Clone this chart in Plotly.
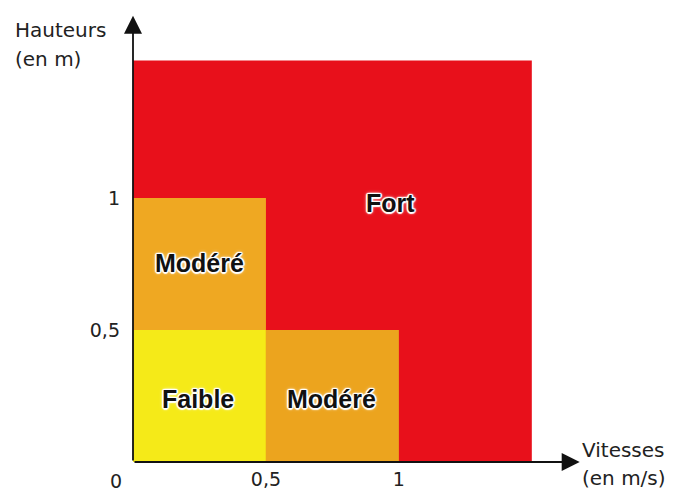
import plotly.graph_objects as go

# ---- data ----
zone_names = ["Fort", "Modéré", "Faible", "Modéré"]
zone_x0 = [0.0, 0.0, 0.0, 0.5]
zone_x1 = [1.5, 0.5, 0.5, 1.0]
zone_y0 = [0.0, 0.5, 0.0, 0.0]
zone_y1 = [1.52, 1.0, 0.5, 0.5]
zone_colors = ["#E8101B", "#EFA822", "#F5EA18", "#ECA41E"]
label_x = [0.97, 0.25, 0.245, 0.745]
label_y = [0.98, 0.755, 0.24, 0.24]

x_tick_vals = [0.5, 1.0]
x_tick_text = ["0,5", "1"]
y_tick_vals = [0.5, 1.0]
y_tick_text = ["0,5", "1"]
x_title = ["Vitesses", "(en m/s)"]
y_title = ["Hauteurs", "(en m)"]

fig = go.Figure()

shapes = []
for x0, x1, y0, y1, c in zip(zone_x0, zone_x1, zone_y0, zone_y1, zone_colors):
    shapes.append(dict(type="rect", xref="x", yref="y", x0=x0, x1=x1, y0=y0, y1=y1,
                       fillcolor=c, line=dict(width=0), layer="below"))

annotations = []
w = "rgb(255,255,255)"
halo = ", ".join([
    f"1.5px 0px 1px {w}", f"-1.5px 0px 1px {w}", f"0px 1.5px 1px {w}", f"0px -1.5px 1px {w}",
    f"1px 1px 1px {w}", f"-1px -1px 1px {w}", f"1px -1px 1px {w}", f"-1px 1px 1px {w}",
    f"0px 0px 4px {w}",
])
for name, lx, ly in zip(zone_names, label_x, label_y):
    annotations.append(dict(x=lx, y=ly, xref="x", yref="y", text=name, showarrow=False,
                            font=dict(family="Liberation Sans", size=25, color="#111111",
                                      weight="bold", shadow=halo)))

# axis arrows
annotations.append(dict(x=1.68, y=0, ax=0, ay=0, xref="x", yref="y", axref="x", ayref="y",
                        text="", showarrow=True, arrowhead=2, arrowwidth=1.8, arrowsize=2.0,
                        arrowcolor="#111", standoff=0, startstandoff=0))
annotations.append(dict(x=0, y=1.69, ax=0, ay=0, xref="x", yref="y", axref="x", ayref="y",
                        text="", showarrow=True, arrowhead=2, arrowwidth=1.8, arrowsize=2.0,
                        arrowcolor="#111", standoff=0, startstandoff=0))

tick_font = dict(family="DejaVu Sans", size=19, color="#222")
title_font = dict(family="DejaVu Sans", size=20, color="#222")

# origin label
annotations.append(dict(x=-0.0376, y=-0.043, xref="paper", yref="paper", text="0",
                        showarrow=False, xanchor="center", yanchor="middle", font=tick_font))

# axis titles
annotations.append(dict(x=-0.2655, y=0.962, xref="paper", yref="paper", text=y_title[0],
                        showarrow=False, xanchor="left", yanchor="middle", font=title_font))
annotations.append(dict(x=-0.2655, y=0.898, xref="paper", yref="paper", text=y_title[1],
                        showarrow=False, xanchor="left", yanchor="middle", font=title_font))
annotations.append(dict(x=0.988, y=0.027, xref="paper", yref="paper", text=x_title[0],
                        showarrow=False, xanchor="left", yanchor="middle", font=title_font))
annotations.append(dict(x=0.988, y=-0.036, xref="paper", yref="paper", text=x_title[1],
                        showarrow=False, xanchor="left", yanchor="middle", font=title_font))

# page body has an 8px margin, so the figure is sized/offset to land on the window
fig.update_layout(
    width=667, height=483,
    margin=dict(l=125, r=90, t=5, b=29, autoexpand=False),
    paper_bgcolor="white", plot_bgcolor="white",
    shapes=shapes, annotations=annotations,
    showlegend=False,
    xaxis=dict(range=[0, 1.7], showgrid=False, zeroline=False, showline=False,
               tickvals=x_tick_vals, ticktext=x_tick_text, ticks="", tickfont=tick_font,
               ticklabelstandoff=4, automargin=False, fixedrange=True),
    yaxis=dict(range=[0, 1.7], showgrid=False, zeroline=False, showline=False,
               tickvals=y_tick_vals, ticktext=y_tick_text, ticks="", tickfont=tick_font,
               ticklabelstandoff=12, automargin=False, fixedrange=True),
)

fig.write_html("out.html")
